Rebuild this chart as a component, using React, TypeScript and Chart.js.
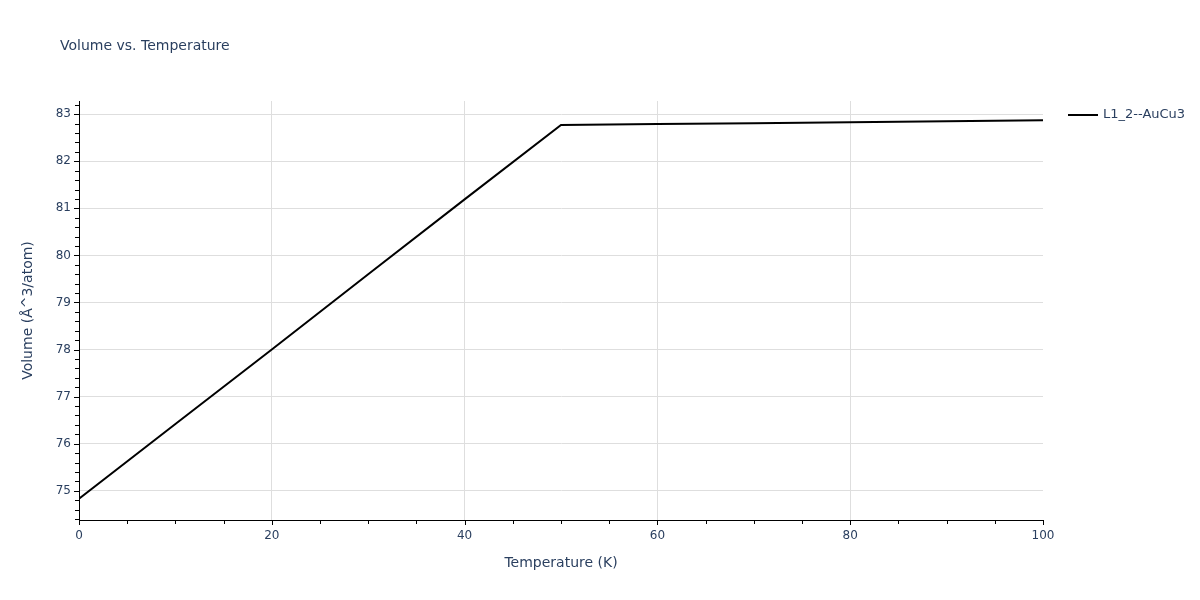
import React, { useEffect, useRef } from 'react';
import { Chart, registerables, type Plugin } from 'chart.js';

Chart.register(...registerables);

// Data
const temperatures = [0, 10, 20, 30, 40, 50, 60, 70, 80, 90, 100];
const volumes = [74.83, 76.42, 78.0, 79.6, 81.19, 82.77, 82.79, 82.81, 82.83, 82.85, 82.87];
const yTickValues = [75, 76, 77, 78, 79, 80, 81, 82, 83];
const xTickValues = [0, 20, 40, 60, 80, 100];
const seriesName = 'L1_2--AuCu3';
const chartTitle = 'Volume vs. Temperature';
const xTitle = 'Temperature (K)';
const yTitle = 'Volume (Å^3/atom)';

const TEXT = '#2a3f5f';
const GRID = '#dedede';
const FONT = '"DejaVu Sans", sans-serif';

// Draws ticks (major + minor), titles and the legend the plotly way
const decorations: Plugin<'line'> = {
  id: 'decorations',
  afterDraw(chart) {
    const { ctx, chartArea } = chart;
    const xs = chart.scales.x;
    const ys = chart.scales.y;
    ctx.save();
    ctx.strokeStyle = '#000';
    ctx.lineWidth = 1;

    // x ticks every 5, major every 20
    for (let v = 0; v <= 100; v += 5) {
      const px = Math.round(xs.getPixelForValue(v)) + 0.5;
      const len = v % 20 === 0 ? 5 : 4;
      ctx.beginPath();
      ctx.moveTo(px, chartArea.bottom);
      ctx.lineTo(px, chartArea.bottom + len);
      ctx.stroke();
    }
    // y ticks every 0.2, major every 1
    for (let i = 372; i <= 416; i++) {
      const v = i / 5;
      const py = Math.round(ys.getPixelForValue(v)) + 0.5;
      const len = i % 5 === 0 ? 5 : 4;
      ctx.beginPath();
      ctx.moveTo(chartArea.left, py);
      ctx.lineTo(chartArea.left - len, py);
      ctx.stroke();
    }

    ctx.fillStyle = TEXT;
    // chart title
    ctx.font = `14px ${FONT}`;
    ctx.textAlign = 'left';
    ctx.textBaseline = 'alphabetic';
    ctx.fillText(chartTitle, 60, 50);

    // axis titles
    ctx.font = `14px ${FONT}`;
    ctx.textAlign = 'center';
    ctx.textBaseline = 'middle';
    ctx.fillText(xTitle, (chartArea.left + chartArea.right) / 2, 563);
    ctx.save();
    ctx.translate(28, (chartArea.top + chartArea.bottom) / 2);
    ctx.rotate(-Math.PI / 2);
    ctx.fillText(yTitle, 0, 0);
    ctx.restore();

    // legend
    ctx.strokeStyle = '#000';
    ctx.lineWidth = 2;
    ctx.beginPath();
    ctx.moveTo(1068, 115);
    ctx.lineTo(1098, 115);
    ctx.stroke();
    ctx.font = `13px ${FONT}`;
    ctx.textAlign = 'left';
    ctx.fillText(seriesName, 1103, 115);
    ctx.restore();
  }
};

export default function App() {
  const canvasRef = useRef<HTMLCanvasElement>(null);

  useEffect(() => {
    document.body.style.margin = '0';
    if (!canvasRef.current) return;

    const chart = new Chart(canvasRef.current, {
      type: 'line',
      data: {
        datasets: [
          {
            label: seriesName,
            data: temperatures.map((t, i) => ({ x: t, y: volumes[i] })),
            borderColor: '#000',
            borderWidth: 2,
            pointRadius: 0,
            tension: 0,
            fill: false
          }
        ]
      },
      options: {
        responsive: false,
        animation: false,
        devicePixelRatio: 1,
        layout: { padding: { left: 0, top: 101, right: 157, bottom: 0 } },
        plugins: {
          legend: { display: false },
          title: { display: false },
          tooltip: { enabled: false }
        },
        scales: {
          x: {
            type: 'linear',
            min: 0,
            max: 100,
            afterFit: (scale) => {
              scale.height = 80;
            },
            afterBuildTicks: (scale) => {
              scale.ticks = xTickValues.map((value) => ({ value }));
            },
            grid: {
              color: (c) => (c.tick && (c.tick.value === 0 || c.tick.value === 100) ? 'rgba(0,0,0,0)' : GRID),
              drawTicks: false
            },
            border: { display: true, color: '#000', width: 1 },
            ticks: {
              padding: 9,
              color: TEXT,
              font: { family: FONT, size: 12 },
              maxRotation: 0
            }
          },
          y: {
            type: 'linear',
            min: 74.38,
            max: 83.28,
            afterFit: (scale) => {
              scale.width = 79;
            },
            afterBuildTicks: (scale) => {
              scale.ticks = yTickValues.map((value) => ({ value }));
            },
            grid: { color: GRID, drawTicks: false },
            border: { display: true, color: '#000', width: 1 },
            ticks: {
              padding: 8,
              color: TEXT,
              font: { family: FONT, size: 12 }
            }
          }
        }
      },
      plugins: [decorations]
    });

    return () => chart.destroy();
  }, []);

  return (
    <div style={{ width: 1200, height: 600, background: '#fff' }}>
      <canvas ref={canvasRef} width={1200} height={600} />
    </div>
  );
}
